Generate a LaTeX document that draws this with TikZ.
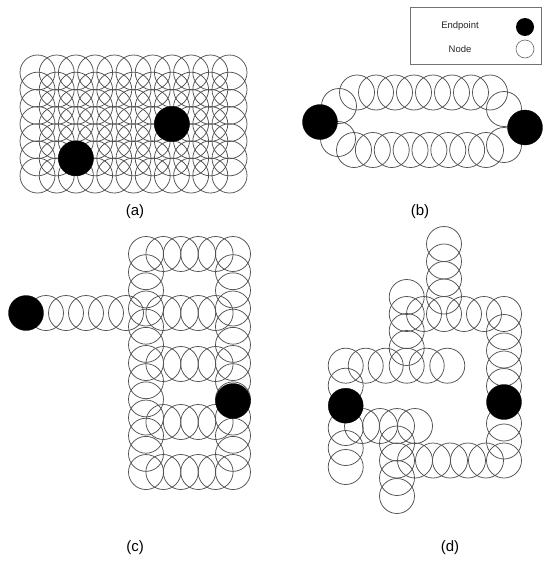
\documentclass[tikz,border=0pt]{standalone}
\usepackage{fontspec}
\setmainfont{Liberation Sans}
\tikzset{
  nd/.style={circle,draw=black!68,line width=0.75pt,minimum size=35pt,inner sep=0pt},
  ep/.style={circle,fill=black,draw=black,line width=0.3pt,minimum size=35pt,inner sep=0pt},
  lab/.style={font=\fontsize{15}{17}\selectfont,inner sep=0pt},
  legtxt/.style={font=\fontsize{9.5}{11}\selectfont,inner sep=0pt,text=black!85},
}
\begin{document}
\begin{tikzpicture}[x=1pt,y=-1pt]
\useasboundingbox (0,0) rectangle (544,562);
% ---------- legend ----------
\draw[draw=black!55,line width=0.6pt] (410,7) rectangle (541,64);
\node[legtxt] (legE) at (460,26) {Endpoint};
\node[legtxt] (legN) at (460,49) {Node};
\node[circle,fill=black,minimum size=18pt,inner sep=0pt] (legEc) at (525,27) {};
\node[circle,draw=black!60,line width=0.6pt,minimum size=18pt,inner sep=0pt] (legNc) at (525,49) {};
% ---------- (a) ----------
\foreach \i in {0,...,10}{
  \foreach \j in {0,...,6}{
    \node[nd] (a-\i-\j) at ({37.5+\i*19.2},{72.5+\j*17.17}) {};
  }
}
\node[ep] (aE1) at (a-2-5) {};
\node[ep] (aE2) at (a-7-3) {};
\node[lab] (la) at (135,212) {(a)};
% ---------- (b) ----------
\foreach \i in {0,...,7}{
  \node[nd] (bt-\i) at ({357+\i*19},92.5) {};
  \node[nd] (bb-\i) at ({354+\i*18.86},150) {};
}
\node[nd] (bul) at (339,106) {};
\node[nd] (bll) at (338,139) {};
\node[nd] (bur) at (504,109) {};
\node[nd] (blr) at (504,145) {};
\node[ep] (bE1) at (320,122) {};
\node[ep] (bE2) at (525,127.5) {};
\node[lab] (lb) at (420,212) {(b)};
% ---------- (c) ----------
\foreach \j in {0,...,12}{
  \node[nd] (cl-\j) at (146,{254+\j*18.17}) {};
  \node[nd] (cr-\j) at (233,{254+\j*18.17}) {};
}
\foreach \y [count=\r] in {254,313,364,422,472}{
  \foreach \k in {1,...,4}{
    \node[nd] (c-\r-\k) at ({146+\k*17.4},\y) {};
  }
}
\foreach \k in {1,...,5}{
  \node[nd] (ch-\k) at ({26+\k*20},313) {};
}
\node[ep] (cE1) at (26,313) {};
\node[ep] (cE2) at (233,401) {};
\node[lab] (lc) at (135,548) {(c)};
% ---------- (d) ----------
\foreach \y [count=\n] in {244,261.5,279,296.5,314}{
  \node[nd] (dts-\n) at (444,\y) {};
}
\foreach \x [count=\n] in {424,464,484,504}{
  \node[nd] (dtr-\n) at (\x,314) {};
}
\foreach \y [count=\n] in {332,350.5,368.5,386,423.5,441.5}{
  \node[nd] (drc-\n) at (504,\y) {};
}
\foreach \x [count=\n] in {397,415,433,450,468,486,504}{
  \node[nd] (dbr-\n) at (\x,460.5) {};
}
\foreach \y [count=\n] in {426,443.5,478,496}{
  \node[nd] (dls-\n) at (397,\y) {};
}
\foreach \x [count=\n] in {362,380,415}{
  \node[nd] (dmr-\n) at (\x,426) {};
}
\foreach \y [count=\n] in {365.7,385.7,428,448,467}{
  \node[nd] (dlc-\n) at (345.7,\y) {};
}
\foreach \x [count=\n] in {365.7,385.7,406.7,426.7,447.3}{
  \node[nd] (dmu-\n) at (\x,365.7) {};
}
\foreach \y [count=\n] in {297,314,331,348}{
  \node[nd] (dus-\n) at (406.7,\y) {};
}
\node[ep] (dE1) at (345.7,405.7) {};
\node[ep] (dE2) at (504,402) {};
\node[lab] (ld) at (450,548) {(d)};
\end{tikzpicture}
\end{document}
